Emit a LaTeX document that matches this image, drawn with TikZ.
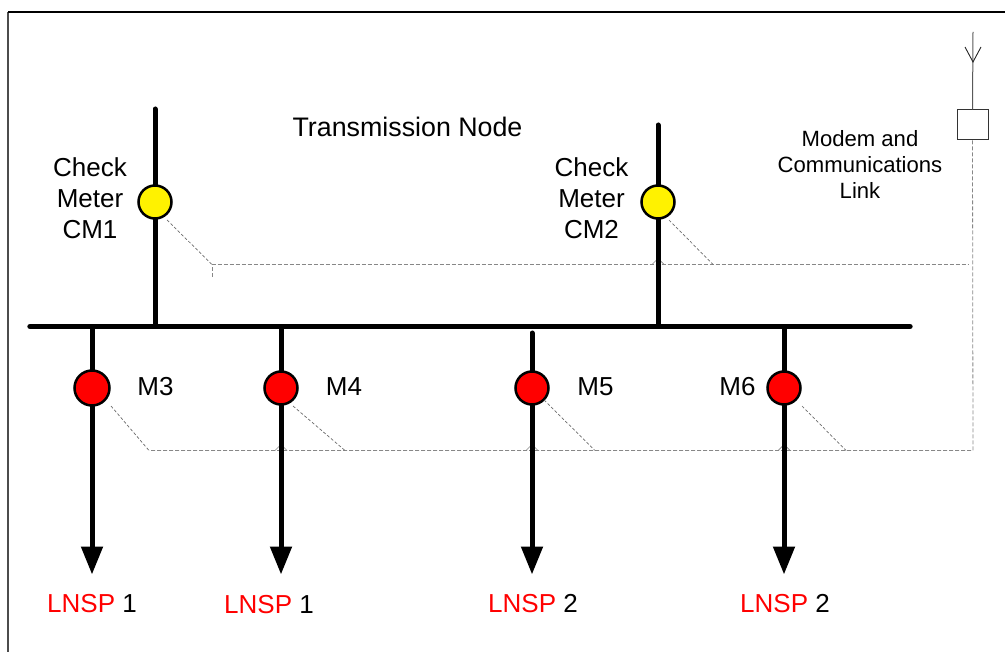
\documentclass[tikz,border=0pt]{standalone}
\usepackage{fontspec}
\setmainfont{Liberation Sans}
\usetikzlibrary{arrows.meta}
\definecolor{lnsp}{RGB}{255,0,0}
\definecolor{dashgrey}{RGB}{135,135,135}
\tikzset{
  x=1pt,y=-1pt,
  bus/.style={line width=5.4pt,line cap=round},
  feeder/.style={line width=5pt},
  flow/.style={feeder,-{Triangle[length=28pt,width=21pt]},shorten >=-1.5pt},
  frameline/.style={line width=1.6pt},
  meterred/.style={circle,draw,line width=2.5pt,fill=red,minimum size=33pt,inner sep=0pt},
  meteryellow/.style={circle,draw,line width=2.5pt,fill=yellow,minimum size=33pt,inner sep=0pt},
  comms/.style={dashgrey,line width=.8pt,dash pattern=on 4pt off 2pt},
  lead/.style={dashgrey!80!black,line width=.7pt,dash pattern=on 3pt off 2pt},
  hop/.style={dashgrey,line width=.7pt},
  modem/.style={draw=black!80,line width=1pt,fill=white,minimum width=31pt,minimum height=30pt,inner sep=0pt},
  label/.style={font=\fontsize{26}{31}\selectfont,align=center,inner sep=0pt},
  titlelabel/.style={font=\fontsize{26.8}{31}\selectfont,align=center,inner sep=0pt},
  smalllabel/.style={font=\fontsize{22.1}{26}\selectfont,align=center,inner sep=0pt}
}
\begin{document}
\begin{tikzpicture}
\useasboundingbox (0,0) rectangle (1005,652);
% frame
\coordinate (f1) at (8,652);
\coordinate (f2) at (8,12);
\coordinate (f3) at (1005,12);
\draw[black!70,line width=1.3pt] (f1) -- (f2);
\draw[frameline] (f2) -- (f3);
% coordinates
\coordinate (busL) at (30,326.5);
\coordinate (busR) at (910,326.5);
\coordinate (cm1top) at (155,109);
\coordinate (cm1bus) at (155,326);
\coordinate (cm2top) at (658,125);
\coordinate (cm2bus) at (658,326);
\coordinate (m3bus) at (92,326);
\coordinate (m4bus) at (281,326);
\coordinate (m5bus) at (532,333);
\coordinate (m6bus) at (784,326);
\coordinate (m3end) at (92,573);
\coordinate (m4end) at (281,573);
\coordinate (m5end) at (532,573);
\coordinate (m6end) at (784,573);
% comms wiring
\coordinate (upL) at (212,264.5);
\coordinate (upStub) at (212,277);
\coordinate (upR) at (968,264.5);
\coordinate (cm2j) at (713,264.5);
\coordinate (lowL) at (149,450.5);
\coordinate (lowR) at (973,450.5);
\coordinate (m4j) at (345,450.5);
\coordinate (m5j) at (595,450.5);
\coordinate (m6j) at (846,450.5);
\coordinate (ant) at (973,32);
\coordinate (antJ) at (973,62);
\coordinate (antA) at (965,47);
\coordinate (antB) at (981,47);
\node[modem] (box) at (972.5,125) {};
\draw[comms] (box.south) -- (lowR) -- (lowL);
\draw[comms] (upStub) -- (upL) -- (upR);
\draw[black!65,line width=1pt] (ant) -- (box.north);
\draw[black!85,line width=.9pt] (antA) -- (antJ) -- (antB);
% hops at crossings
\foreach \hx/\hy in {658/264.5,281/450.5,532/450.5,784/450.5}{
  \draw[hop] (\hx-6,\hy) -- (\hx,\hy-6) -- (\hx+6,\hy);
}
% feeders
\draw[feeder,line cap=round] (cm1top) -- (cm1bus);
\draw[feeder,line cap=round] (cm2top) -- (cm2bus);
\draw[bus] (busL) -- (busR);
\draw[flow] (m3bus) -- (m3end);
\draw[flow] (m4bus) -- (m4end);
\draw[flow,line cap=round] (m5bus) -- (m5end);
\draw[flow] (m6bus) -- (m6end);
% meters
\node[meteryellow] (cm1) at (155,202) {};
\node[meteryellow] (cm2) at (658,202) {};
\node[meterred,minimum size=35pt] (m3) at (92,388) {};
\node[meterred] (m4) at (281,388) {};
\node[meterred] (m5) at (532,388) {};
\node[meterred] (m6) at (784,388) {};
% leads
\draw[lead] (cm1) ++(12,18) coordinate (l1) -- (upL);
\draw[lead] (cm2) ++(11,18) coordinate (l2) -- (cm2j);
\draw[lead] (m3) ++(19,18) coordinate (l3) -- (lowL);
\draw[lead] (m4) ++(12,18) coordinate (l4) -- (m4j);
\draw[lead] (m5) ++(12,12) coordinate (l5) -- (m5j);
\draw[lead] (m6) ++(18,18) coordinate (l6) -- (m6j);
% labels
\node[titlelabel] (tn) at (407.5,127) {Transmission Node};
\node[label] (c1) at (90,198) {Check\\Meter\\CM1};
\node[label] (c2) at (591.5,198) {Check\\Meter\\CM2};
\node[smalllabel] (mc) at (860,164.5) {Modem and\\Communications\\Link};
\node[label] (t3) at (155.5,386.5) {M3};
\node[label] (t4) at (344,386.5) {M4};
\node[label] (t5) at (595.5,386.5) {M5};
\node[label] (t6) at (737.5,386.5) {M6};
\node[label] (s3) at (92,603.5) {\textcolor{lnsp}{LNSP} 1};
\node[label] (s4) at (269,604.5) {\textcolor{lnsp}{LNSP} 1};
\node[label] (s5) at (533,603.5) {\textcolor{lnsp}{LNSP} 2};
\node[label] (s6) at (785,603.5) {\textcolor{lnsp}{LNSP} 2};
\end{tikzpicture}
\end{document}
